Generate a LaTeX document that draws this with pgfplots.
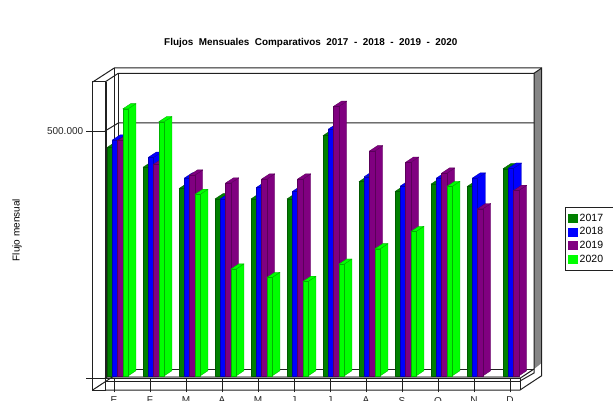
\documentclass[border=0pt]{standalone}
\usepackage{pgfplots}
\pgfplotsset{compat=1.18}
\usepackage{fontspec}
\setmainfont{Liberation Sans}
\definecolor{c0}{HTML}{008000}
\definecolor{c1}{HTML}{0000FF}
\definecolor{c2}{HTML}{800080}
\definecolor{c3}{HTML}{00FF00}
\definecolor{fr}{HTML}{202020}
% one bar: series, month, value
\newcommand{\B}[3]{%
  \pgfmathsetmacro\xa{#2-0.1944+#1*0.1458}%
  \pgfmathsetmacro\xb{\xa+0.1458}%
  \pgfmathsetmacro\xc{\xb+0.2222}%
  \pgfmathsetmacro\xd{\xa+0.2222}%
  \edef\yb{\the\numexpr 4650\relax}%
  \edef\ybb{\the\numexpr 4650+10700\relax}%
  \edef\yt{\the\numexpr #3+4650\relax}%
  \edef\ytt{\the\numexpr #3+4650+10700\relax}%
  \edef\tmp{\noexpand\addplot[forget plot,fill=c#1,draw=c#1!70!black,line width=0.35pt,line join=round] coordinates {(\xb,\yb)(\xc,\ybb)(\xc,\ytt)(\xb,\yt)} -- cycle;
  \noexpand\addplot[forget plot,fill=c#1,draw=c#1!70!black,line width=0.35pt,line join=round] coordinates {(\xa,\yt)(\xb,\yt)(\xc,\ytt)(\xd,\ytt)} -- cycle;
  \noexpand\addplot[forget plot,fill=c#1,draw=c#1!70!black,line width=0.35pt,line join=round] coordinates {(\xa,\yb)(\xb,\yb)(\xb,\yt)(\xa,\yt)} -- cycle;}%
  \tmp}
\pgfplotsset{swatch/.style={legend image code/.code={\fill[##1] (0pt,-4pt) rectangle (9.5pt,4pt);}}}
\begin{document}
\begin{tikzpicture}
\useasboundingbox (0pt,0pt) rectangle (613pt,-401pt);
\begin{scope}[x=1pt,y=-1pt]
% walls and floor
\fill[gray!95] (534,73.3) -- (541.7,68) -- (541.7,363) -- (534,369) -- cycle;
\fill[gray!80] (106,375.7) rectangle (520,378.3);
\begin{scope}[draw=fr,line width=1pt]
\draw (92.7,82) rectangle (105,390);
\draw (92.7,82) -- (114.3,68) -- (541.7,68) -- (541.7,375.7) -- (520,390) -- (105,390);
\draw (105,82) -- (118.3,73.3) -- (534,73.3) -- (534,373) -- (520,381);
\draw (534,369) -- (520,378.3) -- (105,378.3);
\draw (520,378.3) -- (520,390);
\draw (105,381) -- (520,381);
\draw (534,73.3) -- (541.7,68);
\draw (118.3,73.3) -- (118.3,369) -- (534,369);
\draw (114.3,68) -- (114.3,375);
\draw (106,82) -- (106,378.3);
\draw (92.7,390) -- (114.3,375.7);
\draw (105,378.3) -- (118.3,369);
\draw (105,131) -- (118.3,123) -- (534,123);
\end{scope}
\end{scope}
\begin{axis}[
  at={(105pt,-378.3pt)}, anchor=south west,
  scale only axis, width=415pt, height=305pt,
  xmin=-0.25, xmax=11.278, ymin=0, ymax=616660,
  clip=false,
  axis line style={draw=none},
  xtick pos=bottom, ytick pos=left,
  tick align=outside,
  xtick={0,...,11},
  xticklabels={E,F,M,A,M,J,J,A,S,O,N,D},
  ytick={0,500000}, yticklabels={,500.000},
  scaled y ticks=false,
  tick style={fr,line width=0.8pt},
  minor tick num=0,
  xtick style={/pgfplots/major tick length=14pt},
  ytick style={/pgfplots/major tick length=19pt},
  ticklabel style={font=\fontsize{10}{12}\selectfont,text=black!85},
  xticklabel style={yshift=-11pt},
  yticklabel style={xshift=-14pt},
  /pgf/number format/assume math mode=true,
  title={Flujos\ \ Mensuales\ \ Comparativos\ \ 2017\ \ -\ \ 2018\ \ -\ \ 2019\ \ -\ \ 2020},
  title style={font=\fontsize{9.9}{11}\selectfont\bfseries,at={(rel axis cs:0.496,1)},anchor=base,yshift=22pt},
  ylabel={Flujo mensual},
  ylabel style={font=\fontsize{9.5}{11}\selectfont},
  every axis y label/.style={at={(rel axis cs:-0.212,0.486)},rotate=90,anchor=center},
  legend style={at={(rel axis cs:1.1085,0.5627)},anchor=north west,draw=fr,line width=0.8pt,
     inner xsep=2.5pt,inner ysep=6.5pt,font=\fontsize{10.5}{12}\selectfont,row sep=3.7pt,
     nodes={inner xsep=1.5pt,inner ysep=0.5pt}},
  legend cell align=left,
]
\B{0}{0}{462000}\B{0}{1}{422000}\B{0}{2}{379000}\B{0}{3}{358000}\B{0}{4}{358000}\B{0}{5}{358000}
\B{0}{6}{486000}\B{0}{7}{393000}\B{0}{8}{373000}\B{0}{9}{388000}\B{0}{10}{383000}\B{0}{11}{419000}
\B{1}{0}{477000}\B{1}{1}{442000}\B{1}{2}{400000}\B{1}{3}{358000}\B{1}{4}{381000}\B{1}{5}{373000}
\B{1}{6}{499000}\B{1}{7}{403000}\B{1}{8}{384000}\B{1}{9}{400000}\B{1}{10}{400000}\B{1}{11}{420000}
\B{2}{0}{476000}\B{2}{1}{428000}\B{2}{2}{406000}\B{2}{3}{390000}\B{2}{4}{398000}\B{2}{5}{398000}
\B{2}{6}{545000}\B{2}{7}{455000}\B{2}{8}{432000}\B{2}{9}{410000}\B{2}{10}{338000}\B{2}{11}{375000}
\B{3}{0}{540000}\B{3}{1}{514000}\B{3}{2}{367000}\B{3}{3}{216000}\B{3}{4}{199000}\B{3}{5}{191000}
\B{3}{6}{226000}\B{3}{7}{257000}\B{3}{8}{292000}\B{3}{9}{383000}
\addlegendimage{swatch,c0}\addlegendentry{2017\hspace{7pt}\null}
\addlegendimage{swatch,c1}\addlegendentry{2018\hspace{7pt}\null}
\addlegendimage{swatch,c2}\addlegendentry{2019\hspace{7pt}\null}
\addlegendimage{swatch,c3}\addlegendentry{2020\hspace{7pt}\null}
\end{axis}
\end{tikzpicture}
\end{document}
